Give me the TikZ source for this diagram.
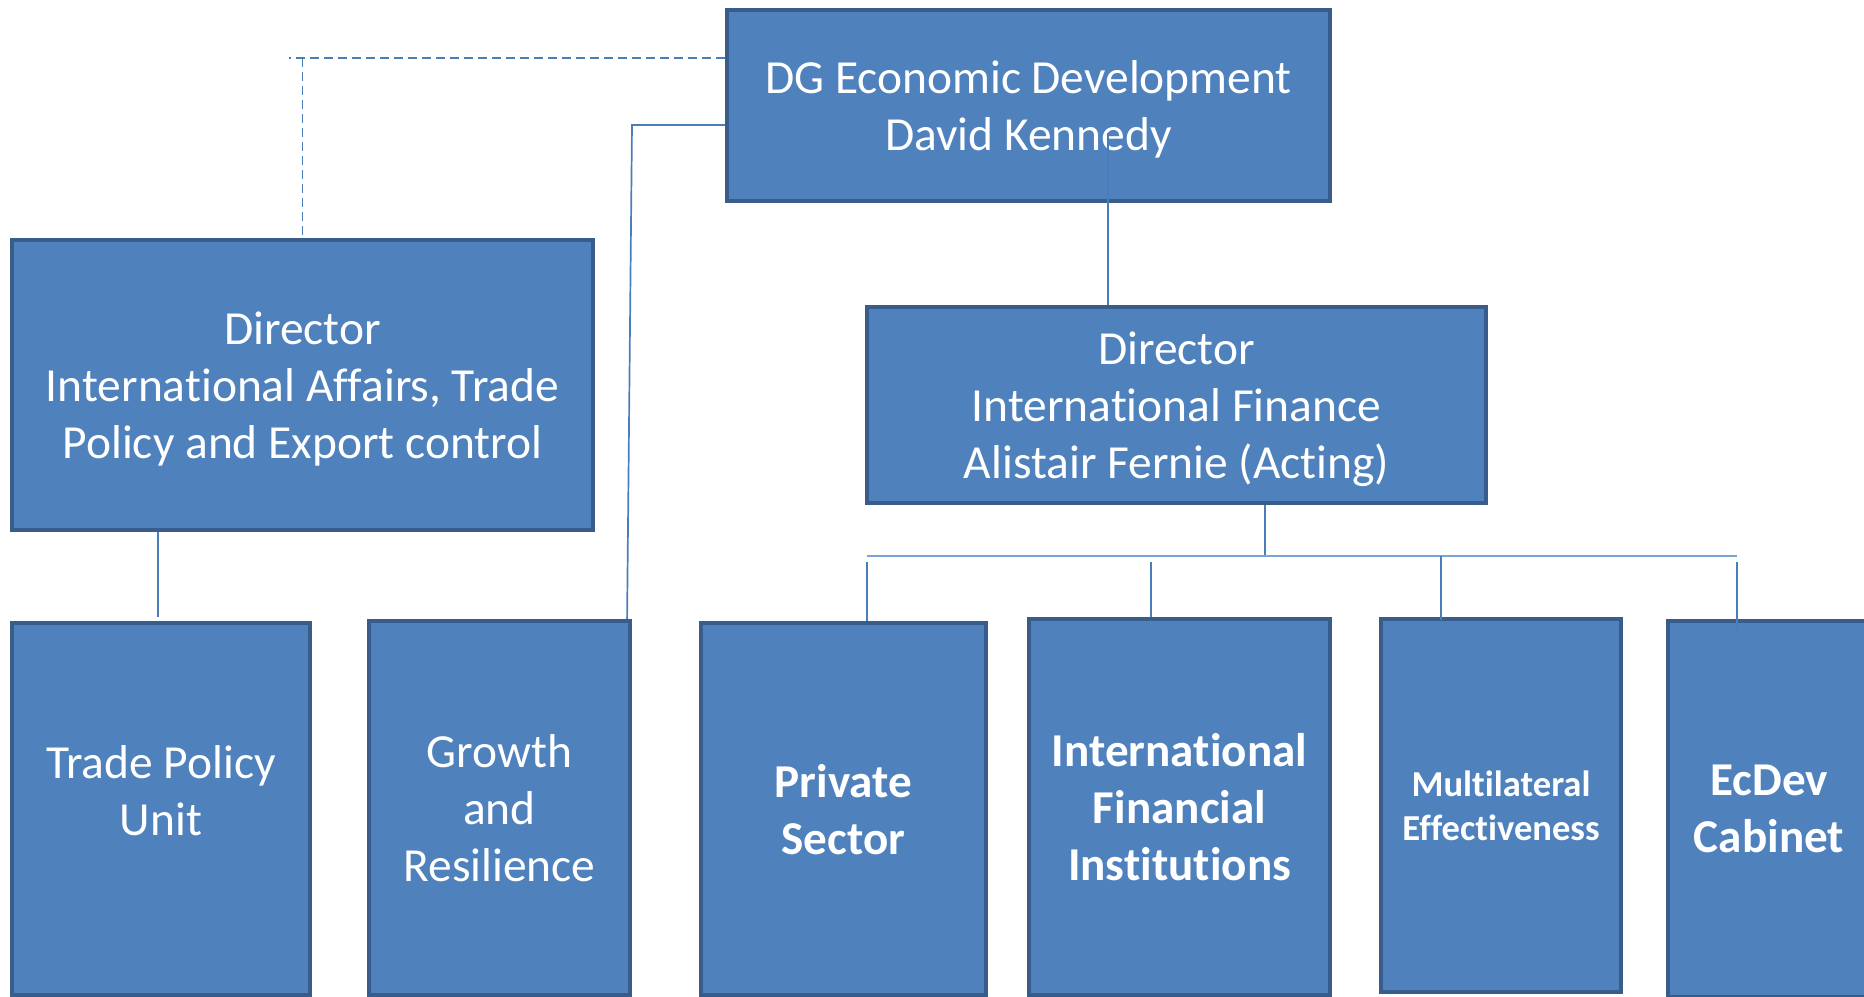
\documentclass[tikz,border=0pt]{standalone}
\usepackage{fontspec}
\setmainfont{Carlito}[Ligatures={NoCommon,NoContextual}]
\usetikzlibrary{calc}
\definecolor{boxfill}{HTML}{4F81BD}
\definecolor{boxedge}{HTML}{385D8A}
\definecolor{linkblue}{HTML}{4A7EBB}
\definecolor{buslight}{HTML}{7BA3D8}

\begin{document}
\begin{tikzpicture}[x=0.01cm, y=-0.01cm,
						every node/.style={rectangle, draw=boxedge, fill=boxfill, line width=0.045cm, text=white, align=center, inner sep=0pt, text depth=0pt, font=\fontsize{13.5}{16.2}\selectfont},
						unit/.style={font=\fontsize{13.4}{16.2}\selectfont\bfseries},
						small/.style={font=\fontsize{10.4}{12.5}\selectfont\bfseries},
						link/.style={draw=linkblue, line width=0.017cm},
						dotlink/.style={link, dash pattern=on 0.09cm off 0.05cm},
						bus/.style={draw=buslight, line width=0.022cm}]
					\useasboundingbox (0,0) rectangle (1864,996);
					\clip (0,0) rectangle (1864,996);

					\node[minimum width=6.025cm, minimum height=1.905cm] (DG) at (1028.5,105.5) {DG Economic Development\\David Kennedy};
					\node[minimum width=5.805cm, minimum height=2.895cm] (DirT) at (302.5,385) {Director\\International Affairs, Trade\\Policy and Export control};
					\node[minimum width=6.185cm, minimum height=1.955cm] (DirF) at (1176.5,405) {Director\\International Finance\\Alistair Fernie (Acting)};

					\node[minimum width=2.975cm, minimum height=3.715cm] (TPU) at (161,809) {};
					\node[draw=none, fill=none] (TPUt) at (161,790.5) {Trade Policy\\Unit};
					\node[minimum width=2.605cm, minimum height=3.735cm] (GR) at (499.5,808) {Growth\\and\\Resilience};
					\node[unit, minimum width=2.845cm, minimum height=3.715cm] (PS) at (843.5,809) {Private\\Sector};
					\node[unit, minimum width=3.005cm, minimum height=3.755cm] (IFI) at (1179.5,807) {International\\Financial\\Institutions};
					\node[small, minimum width=2.395cm, minimum height=3.725cm] (ME) at (1501,805.5) {Multilateral\\Effectiveness};
					\node[unit, minimum width=2.015cm, minimum height=3.755cm] (EC) at (1769,809) {EcDev\\Cabinet};

					\coordinate (dashend) at (289,58);
					\draw[dotlink] (dashend -| DG.west) -- (dashend);
					\draw[dotlink] (dashend -| DirT.north) -- (DirT.north);

					\coordinate (grbend) at (632,125);
					\draw[link] (grbend -| DG.west) -- (grbend) -- ($(GR.north east)+(-5,0)$);

					\coordinate (dgtap) at (1108,133);
					\draw[link] (dgtap) -- (dgtap |- DirF.north);

					\draw[link] ($(TPU.north |- DirT.south)+(-3,0)$) -- ($(TPU.north)+(-3,-4)$);

					\coordinate (fintap) at (1265,556);
					\coordinate (busL) at (867,556);
					\coordinate (busR) at (1737,556);
					\draw[link] (fintap |- DirF.south) -- (fintap);
					\draw[bus] (busL) -- (busR);
					\foreach \x/\sub/\gap/\dip in {867/PS/6/0pt, 1151/IFI/6/0pt, 1441/ME/0/1pt, 1737/EC/6/3.7pt}
						\draw[link, shorten >=-\dip] (\x,556+\gap) -- (\x,0 |- \sub.north);
				\end{tikzpicture}
\end{document}
